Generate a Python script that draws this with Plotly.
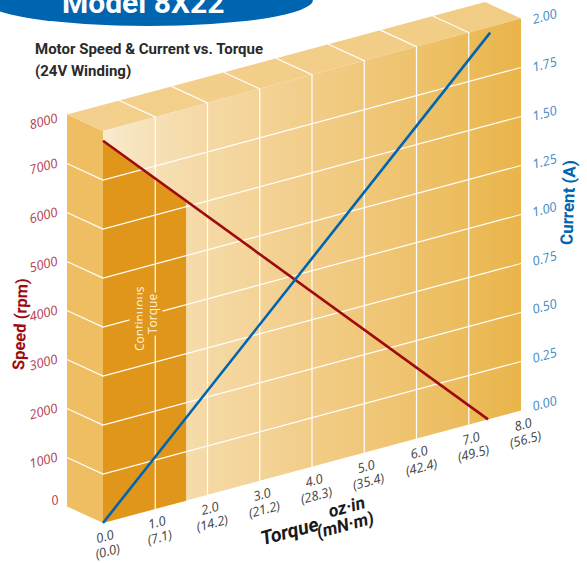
import plotly.graph_objects as go

# ---- data ----
torque_ticks = [0, 1, 2, 3, 4, 5, 6, 7, 8]
torque_labels = ["0.0", "1.0", "2.0", "3.0", "4.0", "5.0", "6.0", "7.0", "8.0"]
torque_mnm = ["(0.0)", "(7.1)", "(14.2)", "(21.2)", "(28.3)", "(35.4)", "(42.4)", "(49.5)", "(56.5)"]
speed_ticks = [0, 1000, 2000, 3000, 4000, 5000, 6000, 7000, 8000]
current_ticks = [0.00, 0.25, 0.50, 0.75, 1.00, 1.25, 1.50, 1.75, 2.00]
speed_torque = [0, 7.37]
speed_rpm = [7800, 0]
current_torque = [0, 7.41]
current_amp = [0, 1.97]
continuous_limit = 1.59

# ---- oblique projection of the chart plane on to the page ----
X0, Y0, W, H, RISE = 103.0, 523.0, 418.0, 392.0, 112.5
DX, DY = -36.0, -16.5
SPEED_MAX, CURRENT_MAX, TORQUE_MAX = 8000.0, 2.0, 8.0


def pt(t, f, depth=0.0):
    u = t / TORQUE_MAX
    return X0 + W * u + DX * depth, Y0 - RISE * u - H * f + DY * depth


def poly(points):
    xs, ys = zip(*points)
    return list(xs) + [xs[0]], list(ys) + [ys[0]]


fig = go.Figure()


def face(points, color=None, gradient=None):
    x, y = poly(points)
    kw = dict(fillgradient=gradient) if gradient else dict(fillcolor=color)
    fig.add_trace(go.Scatter(x=x, y=y, mode="lines", fill="toself", line=dict(width=0),
                             hoverinfo="skip", showlegend=False, **kw))


def line(pts, color="#ffffff", width=1.2):
    x, y = zip(*pts)
    fig.add_trace(go.Scatter(x=list(x), y=list(y), mode="lines", line=dict(color=color, width=width),
                             hoverinfo="skip", showlegend=False))


# faces
face([pt(0, 0, 1), pt(0, 0), pt(0, 1), pt(0, 1, 1)], color="#EFBE62")
face([pt(0, 1), pt(8, 1), pt(8, 1, 1), pt(0, 1, 1)],
     gradient=dict(type="horizontal", colorscale=[[0, "#F4D08E"], [1, "#F0CC84"]]))
face([pt(0, 0), pt(8, 0), pt(8, 1), pt(0, 1)],
     gradient=dict(type="horizontal",
                   colorscale=[[0, "#F8EBCF"], [0.12, "#F6E0B5"], [0.25, "#F5D9A5"], [0.5, "#F2CD88"],
                               [0.75, "#EEC26C"], [1, "#E9B54A"]]))

# continuous-torque band, bounded above by the speed line
limit_speed = speed_rpm[0] * (1 - continuous_limit / speed_torque[1])
face([pt(0, 0), pt(0, speed_rpm[0] / SPEED_MAX), pt(continuous_limit, limit_speed / SPEED_MAX),
      pt(continuous_limit, 0)], color="#E0961A")

# grid
for t in torque_ticks[1:-1]:
    line([pt(t, 0), pt(t, 1), pt(t, 1, 1)])
for s in speed_ticks[1:-1]:
    f = s / SPEED_MAX
    line([pt(0, f, 1), pt(0, f), pt(8, f)])

# series
line([pt(t, s / SPEED_MAX) for t, s in zip(speed_torque, speed_rpm)], "#9E0B0F", 2.6)
line([pt(t, c / CURRENT_MAX) for t, c in zip(current_torque, current_amp)], "#0065B0", 2.6)


def text(x, y, s, size, color, angle=0, bold=False, family="Open Sans", **kw):
    s = f"<b>{s}</b>" if bold else s
    fig.add_annotation(x=x, y=y, text=s, showarrow=False, textangle=angle, xref="x", yref="y",
                       font=dict(size=size, color=color, family=family),
                       **{"xanchor": "center", "yanchor": "middle", **kw})


SKEW = -15
nudge = {0: -9, 8000: 4}
for s in speed_ticks:
    x = 54 if s == 0 else 43
    text(x, 509 - 49 * s / 1000 + nudge.get(s, 0), f"<i>{s}</i>", 13, "#B5404F", SKEW)
for c in current_ticks:
    text(544, 403 - 48.4 * c / 0.25, f"<i>{c:.2f}</i>", 13, "#3F8CC8", SKEW)
for t, a, b in zip(torque_ticks, torque_labels, torque_mnm):
    px, py = pt(t, 0)
    text(px + 2, py + 13, f"<i>{a}</i>", 13, "#444444", SKEW)
    text(px + 4, py + 28, f"<i>{b}</i>", 13, "#444444", SKEW)

text(20, 324, "Speed (rpm)", 16.5, "#9E0B0F", -87.5, True, "Roboto")
text(568, 203, "Current (A)", 17, "#0065B0", -87.5, True, "Roboto")
text(289, 531, "<i>Torque</i>", 19.5, "#1a1a1a", SKEW, True, "Roboto")
text(346, 507, "<i>oz·in</i>", 17.5, "#1a1a1a", SKEW, True, "Roboto")
text(345, 525, "<i>(mN·m)</i>", 17.5, "#1a1a1a", SKEW, True, "Roboto")
text(139, 319, "Continuous", 12, "#FFF3DC", -90, False, "Open Sans", bgcolor="#E0961A")
text(152, 314, "Torque", 12, "#FFF3DC", -90, False, "Open Sans", bgcolor="#E0961A")
text(33, 49, "Motor Speed &amp; Current vs. Torque", 15, "#2a2a2a", 0, True, "Roboto", xanchor="left")
text(33, 71, "(24V Winding)", 15, "#2a2a2a", 0, True, "Roboto", xanchor="left")
text(143, 2, "Model 8X22", 30, "#ffffff", 0, True, "Roboto")

fig.update_layout(
    width=587, height=563, margin=dict(l=0, r=0, t=0, b=0),
    paper_bgcolor="#ffffff", plot_bgcolor="#ffffff", showlegend=False,
    xaxis=dict(range=[0, 587], visible=False, fixedrange=True),
    yaxis=dict(range=[563, 0], visible=False, fixedrange=True),
    shapes=[dict(type="circle", xref="x", yref="y", x0=-17, x1=313, y0=-26, y1=26,
                 fillcolor="#0065B0", line=dict(width=0), layer="below")],
)

fig.write_html("out.html", config={"displayModeBar": False},
               post_script="document.body.style.margin='0';document.body.style.overflow='hidden';")
